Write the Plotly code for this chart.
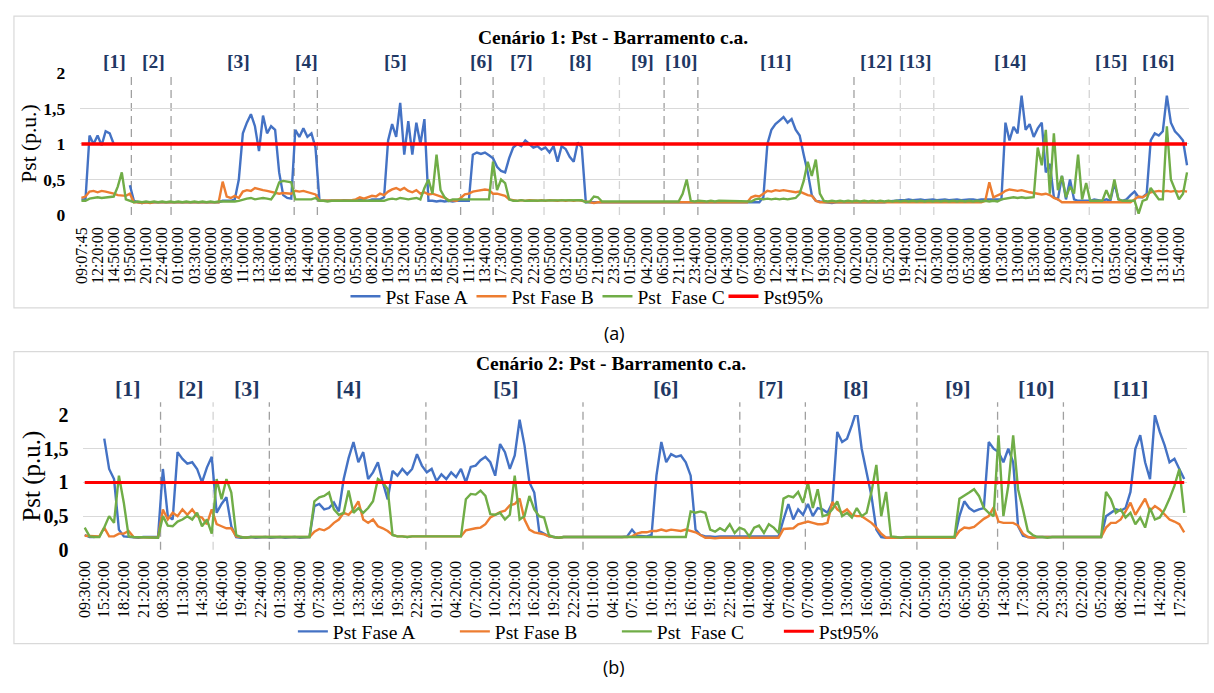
import plotly.graph_objects as go

W, H = 1214, 693
STEP = 4  # data points per labelled category interval

# ---------------- Panel (a) data ----------------
labels_a = ["09:07:45","12:20:00","14:50:00","19:50:00","20:10:00","22:40:00","01:00:00","03:30:00","06:00:00","08:30:00",
            "11:00:00","13:30:00","16:00:00","18:30:00","14:40:00","00:50:00","03:20:00","05:50:00","08:20:00","10:50:00",
            "13:20:00","15:50:00","18:20:00","20:50:00","11:10:00","13:40:00","17:30:00","20:00:00","22:30:00","00:50:00",
            "03:20:00","05:50:00","21:00:00","23:30:00","01:50:00","04:20:00","06:50:00","21:10:00","23:40:00","02:00:00",
            "04:30:00","07:00:00","09:30:00","12:00:00","14:30:00","17:00:00","19:30:00","22:00:00","00:20:00","02:50:00",
            "05:20:00","19:40:00","22:10:00","00:30:00","03:00:00","05:30:00","08:00:00","10:30:00","13:00:00","15:30:00",
            "18:00:00","20:30:00","23:00:00","01:20:00","03:50:00","06:20:00","10:40:00","13:10:00","15:40:00"]

fase_a_1 = [0.22,0.22,1.12,1.00,1.12,0.98,1.18,1.15,1.00,None,
            None,None,0.42,0.20,0.18,0.17,0.18,0.18,0.17,0.18,
            0.18,0.17,0.18,0.18,0.17,0.18,0.18,0.17,0.18,0.18,
            0.17,0.18,0.18,0.18,0.18,0.20,0.20,0.20,0.22,0.50,
            1.15,1.30,1.42,1.25,0.90,1.40,1.15,1.25,1.20,0.60,
            0.28,0.24,0.23,1.20,1.10,1.22,1.10,1.15,0.95,0.20,
            0.20,0.20,0.19,0.20,0.20,0.21,0.20,0.20,0.21,0.22,
            0.21,0.20,0.22,0.22,0.22,0.25,1.05,1.28,1.10,1.58,
            0.85,1.32,0.85,1.30,1.00,1.35,0.20,0.20,0.19,0.20,
            0.19,0.20,0.19,0.20,0.20,0.19,0.20,0.85,0.88,0.86,
            0.88,0.84,0.80,0.68,0.62,0.60,0.80,0.95,1.00,0.97,
            1.05,1.00,0.95,0.97,0.92,0.95,0.88,0.97,0.75,0.97,
            0.93,0.82,0.75,1.02,0.95,0.18,0.18,0.17,0.18,0.18,
            0.18,0.17,0.18,0.18,0.18,0.17,0.18,0.18,0.17,0.18,
            0.18,0.18,0.17,0.18,0.18,0.17,0.18,0.18,0.18,0.17,
            0.18,0.18,0.17,0.18,0.18,0.17,0.18,0.18,0.18,0.17,
            0.18,0.18,0.17,0.18,0.18,0.17,0.18,0.18,0.18,0.25,
            1.00,1.20,1.28,1.33,1.38,1.30,1.35,1.20,1.12,0.85,
            0.60,0.28,0.20,0.19,0.18,0.18,0.17,0.18,0.18,0.17,
            0.18,0.18,0.17,0.18,0.18,0.18,0.17,0.18,0.18,0.18,
            0.19,0.20,0.20,0.21,0.21,0.22,0.21,0.22,0.22,0.21,
            0.22,0.22,0.21,0.22,0.22,0.21,0.22,0.22,0.21,0.22,
            0.22,0.22,0.21,0.22,0.22,0.21,0.22,0.22,0.22,1.30,
            1.05,1.24,1.15,1.68,1.20,1.28,1.10,1.22,1.30,0.60,
            0.72,0.25,0.22,0.55,0.22,0.50,0.22,0.20,0.20,0.21,
            0.20,0.22,0.21,0.20,0.22,0.20,0.45,0.22,0.20,0.22,
            0.28,0.33,0.25,0.25,0.30,1.05,1.15,1.12,1.18,1.68,
            1.30,1.18,1.12,1.05,0.70]

fase_b_1 = [0.24,0.26,0.33,0.34,0.32,0.34,0.33,0.32,0.30,0.28,
            0.28,0.27,0.30,0.18,0.18,0.17,0.18,0.17,0.18,0.18,
            0.17,0.18,0.18,0.17,0.18,0.18,0.17,0.18,0.18,0.17,
            0.18,0.18,0.17,0.18,0.18,0.47,0.26,0.24,0.27,0.24,
            0.33,0.35,0.34,0.38,0.36,0.35,0.34,0.33,0.31,0.30,
            0.31,0.30,0.30,0.34,0.33,0.34,0.32,0.30,0.29,0.20,
            0.20,0.20,0.20,0.21,0.20,0.20,0.20,0.21,0.22,0.25,
            0.23,0.25,0.27,0.26,0.30,0.28,0.33,0.36,0.38,0.35,
            0.38,0.34,0.32,0.35,0.30,0.32,0.29,0.30,0.28,0.27,
            0.24,0.21,0.20,0.20,0.24,0.29,0.30,0.33,0.34,0.35,
            0.36,0.35,0.30,0.30,0.28,0.27,0.22,0.21,0.20,0.21,
            0.20,0.21,0.20,0.20,0.21,0.20,0.21,0.20,0.20,0.21,
            0.20,0.21,0.20,0.21,0.20,0.18,0.18,0.17,0.18,0.18,
            0.18,0.17,0.18,0.18,0.17,0.18,0.18,0.17,0.18,0.18,
            0.17,0.18,0.18,0.17,0.18,0.18,0.17,0.18,0.18,0.17,
            0.18,0.18,0.17,0.18,0.18,0.17,0.18,0.18,0.17,0.18,
            0.18,0.17,0.18,0.18,0.17,0.18,0.25,0.27,0.26,0.30,
            0.34,0.33,0.35,0.34,0.35,0.34,0.33,0.32,0.33,0.30,
            0.28,0.27,0.20,0.18,0.18,0.17,0.18,0.18,0.17,0.18,
            0.18,0.17,0.18,0.18,0.17,0.18,0.18,0.17,0.18,0.18,
            0.17,0.18,0.18,0.17,0.18,0.18,0.17,0.18,0.18,0.17,
            0.18,0.18,0.17,0.18,0.18,0.17,0.18,0.18,0.17,0.18,
            0.18,0.17,0.18,0.18,0.20,0.46,0.25,0.27,0.30,0.34,
            0.36,0.35,0.34,0.35,0.33,0.32,0.31,0.30,0.29,0.30,
            0.28,0.24,0.22,0.18,0.18,0.17,0.18,0.18,0.17,0.18,
            0.18,0.17,0.18,0.18,0.17,0.18,0.18,0.17,0.18,0.18,
            0.18,0.22,0.26,0.25,0.28,0.32,0.33,0.34,0.33,0.34,
            0.33,0.34,0.33,0.34,0.33]

fase_c_1 = [0.20,0.20,0.23,0.24,0.25,0.24,0.25,0.26,0.26,0.40,
            0.60,0.22,0.20,0.18,0.19,0.18,0.19,0.18,0.19,0.18,
            0.19,0.18,0.19,0.18,0.19,0.18,0.19,0.18,0.19,0.18,
            0.19,0.18,0.19,0.18,0.19,0.19,0.18,0.19,0.19,0.20,
            0.22,0.23,0.24,0.22,0.23,0.24,0.23,0.22,0.30,0.46,
            0.48,0.47,0.46,0.22,0.22,0.23,0.22,0.22,0.24,0.20,
            0.20,0.19,0.20,0.20,0.19,0.20,0.20,0.19,0.20,0.20,
            0.19,0.20,0.20,0.19,0.20,0.20,0.22,0.23,0.22,0.24,
            0.23,0.22,0.23,0.24,0.22,0.38,0.50,0.30,0.85,0.35,
            0.25,0.20,0.22,0.22,0.21,0.22,0.22,0.21,0.22,0.22,
            0.21,0.22,0.75,0.35,0.50,0.45,0.22,0.20,0.20,0.21,
            0.20,0.20,0.21,0.20,0.20,0.21,0.20,0.20,0.21,0.20,
            0.20,0.21,0.20,0.20,0.21,0.18,0.19,0.26,0.25,0.19,
            0.19,0.19,0.20,0.19,0.19,0.20,0.19,0.19,0.20,0.19,
            0.19,0.20,0.19,0.19,0.20,0.19,0.19,0.20,0.19,0.30,
            0.50,0.20,0.19,0.20,0.19,0.19,0.20,0.19,0.20,0.20,
            0.19,0.20,0.20,0.19,0.20,0.20,0.19,0.22,0.23,0.22,
            0.23,0.22,0.23,0.22,0.23,0.22,0.23,0.24,0.30,0.48,
            0.75,0.55,0.78,0.30,0.20,0.19,0.20,0.19,0.20,0.19,
            0.20,0.19,0.20,0.19,0.20,0.19,0.20,0.19,0.20,0.19,
            0.20,0.19,0.20,0.19,0.20,0.19,0.20,0.19,0.20,0.19,
            0.20,0.19,0.20,0.19,0.20,0.19,0.20,0.19,0.20,0.19,
            0.20,0.19,0.20,0.19,0.20,0.19,0.20,0.19,0.22,0.23,
            0.24,0.25,0.24,0.25,0.24,0.25,0.25,0.95,0.70,1.20,
            0.30,1.15,0.35,0.55,0.25,0.40,0.30,0.85,0.22,0.45,
            0.20,0.20,0.20,0.20,0.35,0.22,0.50,0.22,0.20,0.20,
            0.20,0.20,0.02,0.20,0.22,0.38,0.30,0.22,0.22,1.25,
            0.50,0.35,0.22,0.30,0.60]

# segment boundaries / label centres (in data-point units)
bounds_a = [12.37, 22.21, 52.72, 58.47, 93.97, 102.02, 144.4, 152.77, 191.46, 261.18]
bounds_a_light = [114.64, 133.33, 202.95, 211.24, 249.77]
seg_pos_a = [8.1, 17.96, 38.87, 55.84, 77.74, 99.14, 108.98, 123.74, 138.99, 148.83,
             171.96, 197.05, 206.64, 230.26, 255.35, 266.91]

# ---------------- Panel (b) data ----------------
labels_b = ["09:30:00","15:20:00","18:20:00","21:20:00","08:30:00","11:30:00","14:30:00","16:40:00","19:40:00","22:40:00",
            "01:30:00","04:30:00","07:30:00","10:30:00","13:30:00","16:30:00","19:30:00","22:30:00","01:20:00","04:20:00",
            "07:20:00","10:20:00","13:20:00","16:20:00","19:20:00","22:20:00","01:10:00","04:10:00","07:10:00","10:10:00",
            "13:10:00","16:10:00","19:10:00","22:10:00","01:00:00","04:00:00","07:00:00","07:00:00","10:00:00","13:00:00",
            "16:00:00","19:00:00","22:00:00","00:50:00","03:50:00","06:50:00","09:50:00","14:30:00","17:30:00","20:30:00",
            "23:30:00","02:20:00","05:20:00","08:20:00","11:20:00","14:20:00","17:20:00"]

fase_a_2 = [0.22,0.19,0.19,None,1.65,1.20,1.05,0.30,0.20,0.19,
            0.19,0.18,0.19,0.19,0.18,0.19,1.20,0.50,0.45,1.45,
            1.35,1.28,1.30,1.20,1.00,1.22,1.38,0.55,0.68,0.78,
            0.35,0.19,0.18,0.19,0.19,0.18,0.19,0.19,0.18,0.19,
            0.19,0.18,0.19,0.19,0.18,0.19,0.19,0.65,0.68,0.60,
            0.62,0.70,0.57,1.05,1.36,1.60,1.30,1.45,1.05,1.15,
            1.30,1.00,0.75,1.17,1.10,1.20,1.12,1.20,1.42,1.25,
            1.15,1.20,1.02,1.12,1.05,1.15,1.08,1.20,1.00,1.23,
            1.25,1.33,1.38,1.30,1.10,1.57,1.45,1.20,1.40,1.93,
            1.55,1.00,0.85,0.28,0.24,0.20,0.19,0.18,0.19,0.19,
            0.18,0.19,0.19,0.18,0.19,0.19,0.18,0.19,0.19,0.18,
            0.19,0.20,0.30,0.21,0.21,0.20,0.22,1.10,1.60,1.30,
            1.42,1.38,1.40,1.30,1.10,0.30,0.22,0.20,0.20,0.19,
            0.20,0.20,0.19,0.20,0.20,0.19,0.20,0.20,0.19,0.20,
            0.20,0.19,0.20,0.45,0.68,0.45,0.60,0.52,0.68,0.50,
            0.62,0.60,0.55,0.70,1.75,1.60,1.65,1.85,2.08,1.50,
            1.15,0.80,0.30,0.19,0.18,0.18,0.17,0.18,0.18,0.17,
            0.18,0.18,0.17,0.18,0.18,0.17,0.18,0.18,0.18,0.50,
            0.72,0.62,0.57,0.60,0.62,1.60,1.50,1.45,1.30,1.50,
            1.30,0.35,0.21,0.19,0.18,0.19,0.19,0.18,0.19,0.19,
            0.18,0.19,0.19,0.18,0.19,0.19,0.18,0.19,0.19,0.50,
            0.55,0.60,0.58,0.62,0.86,1.50,1.70,1.30,1.05,2.00,
            1.75,1.55,1.30,1.35,1.20,1.05]

fase_b_2 = [0.21,0.21,0.20,0.20,0.33,0.20,0.20,0.24,0.24,0.28,
            0.19,0.19,0.18,0.19,0.19,0.18,0.60,0.45,0.55,0.50,
            0.60,0.52,0.60,0.50,0.48,0.38,0.60,0.38,0.35,0.32,
            0.32,0.20,0.19,0.18,0.19,0.19,0.18,0.19,0.19,0.18,
            0.19,0.19,0.18,0.19,0.19,0.18,0.19,0.27,0.31,0.29,
            0.33,0.40,0.45,0.55,0.52,0.60,0.72,0.45,0.40,0.45,
            0.35,0.32,0.28,0.22,0.20,0.20,0.19,0.20,0.20,0.19,
            0.20,0.20,0.19,0.20,0.20,0.19,0.20,0.20,0.29,0.31,
            0.32,0.33,0.38,0.48,0.52,0.56,0.58,0.66,0.68,0.76,
            0.45,0.30,0.26,0.25,0.23,0.20,0.19,0.18,0.19,0.19,
            0.18,0.19,0.19,0.18,0.19,0.19,0.18,0.19,0.19,0.18,
            0.19,0.19,0.20,0.24,0.26,0.26,0.28,0.28,0.30,0.28,
            0.30,0.29,0.28,0.30,0.28,0.26,0.22,0.18,0.18,0.17,
            0.18,0.18,0.17,0.18,0.18,0.17,0.18,0.18,0.17,0.18,
            0.18,0.17,0.18,0.31,0.31,0.32,0.38,0.40,0.42,0.40,
            0.38,0.38,0.40,0.71,0.60,0.55,0.60,0.52,0.50,0.50,
            0.45,0.40,0.33,0.24,0.18,0.18,0.17,0.18,0.18,0.17,
            0.18,0.18,0.17,0.18,0.18,0.17,0.18,0.18,0.18,0.28,
            0.33,0.32,0.34,0.40,0.46,0.50,0.63,0.42,0.40,0.40,
            0.40,0.36,0.24,0.19,0.18,0.19,0.19,0.18,0.19,0.19,
            0.18,0.19,0.19,0.18,0.19,0.19,0.18,0.19,0.19,0.33,
            0.40,0.40,0.45,0.57,0.70,0.52,0.65,0.76,0.58,0.65,
            0.60,0.52,0.45,0.42,0.38,0.26]

fase_c_2 = [0.33,0.20,0.19,0.19,0.33,0.50,0.40,1.10,0.70,0.20,
            0.19,0.19,0.18,0.19,0.19,0.18,0.50,0.36,0.35,0.42,
            0.45,0.50,0.45,0.55,0.35,0.45,0.24,1.05,0.75,1.05,
            0.85,0.22,0.19,0.18,0.19,0.19,0.18,0.19,0.19,0.18,
            0.19,0.19,0.18,0.19,0.19,0.18,0.19,0.72,0.78,0.80,
            0.85,0.60,0.52,0.55,0.88,0.55,0.62,0.55,0.62,0.72,
            1.05,1.00,0.90,0.22,0.20,0.20,0.19,0.20,0.20,0.19,
            0.20,0.20,0.19,0.20,0.20,0.19,0.20,0.20,0.75,0.83,
            0.82,0.88,0.80,0.53,0.52,0.55,0.45,0.52,1.10,0.45,
            0.50,0.80,0.60,0.50,0.48,0.22,0.19,0.18,0.19,0.19,
            0.18,0.19,0.19,0.18,0.19,0.19,0.18,0.19,0.19,0.18,
            0.19,0.19,0.18,0.19,0.19,0.18,0.19,0.19,0.18,0.19,
            0.19,0.18,0.19,0.19,0.57,0.55,0.57,0.55,0.30,0.27,
            0.32,0.28,0.38,0.25,0.33,0.30,0.20,0.33,0.36,0.25,
            0.38,0.33,0.25,0.76,0.80,0.78,0.86,0.70,1.00,0.62,
            0.90,0.50,0.52,0.60,0.72,0.50,0.55,0.48,0.62,0.50,
            0.55,0.86,1.26,0.50,0.86,0.20,0.19,0.18,0.19,0.19,
            0.18,0.19,0.19,0.18,0.19,0.19,0.18,0.19,0.19,0.76,
            0.80,0.85,0.90,0.80,0.62,0.55,0.50,1.70,0.50,0.95,
            1.70,0.90,0.60,0.28,0.22,0.19,0.19,0.18,0.19,0.19,
            0.18,0.19,0.19,0.18,0.19,0.19,0.18,0.19,0.19,0.86,
            0.75,0.55,0.60,0.48,0.55,0.38,0.48,0.33,0.62,0.45,
            0.48,0.60,0.76,0.95,1.20,0.55]

bounds_b = [15.52, 37.78, 69.82, 101.97, 134.06, 147.47, 170.3, 186.81, 200.28]
bounds_b_light = [26.28]
seg_pos_b = [8.88, 21.67, 33.25, 54.17, 86.2, 118.9, 140.36, 157.77, 178.69, 194.68, 214.03]

PST95 = 1.0
series_names = ["Pst Fase A", "Pst Fase B", "Pst\u00a0 Fase C", "Pst95%"]
series_colors = ["#4472C4", "#ED7D31", "#70AD47", "#FF0000"]

SERIF = "Liberation Serif"
NAVY = "#1F3864"

fig = go.Figure()


def add_panel(xa, ya, leg, series, red_w):
    n = len(series[0])
    xs = list(range(n))
    for name, ys, col in zip(series_names[:3], series, series_colors[:3]):
        fig.add_trace(go.Scatter(x=xs, y=ys, mode="lines", name=name,
                                 line=dict(color=col, width=2.4), xaxis=xa, yaxis=ya,
                                 legend=leg, hoverinfo="skip"))
    fig.add_trace(go.Scatter(x=xs, y=[PST95] * n, mode="lines", name=series_names[3],
                             line=dict(color=series_colors[3], width=red_w), xaxis=xa, yaxis=ya,
                             legend=leg, hoverinfo="skip"))


add_panel("x", "y", "legend", [fase_a_1, fase_b_1, fase_c_1], 3.5)
add_panel("x2", "y2", "legend2", [fase_a_2, fase_b_2, fase_c_2], 3.0)


def px(v):
    return v / W


def py(v):
    return 1 - v / H


yticks = [0, 0.5, 1, 1.5, 2]
yticktext = ["0", "0,5", "1", "1,5", "2"]

common_x = dict(showgrid=False, zeroline=False, showline=False, ticks="", tickangle=-90)
common_y = dict(range=[0, 2], tickvals=yticks, ticktext=yticktext, showgrid=True,
                gridcolor="#D9D9D9", gridwidth=1.3, zeroline=False, showline=False, ticks="")

fig.update_layout(
    width=W, height=H, margin=dict(l=0, r=0, t=0, b=0),
    paper_bgcolor="white", plot_bgcolor="white",
    xaxis=dict(domain=[px(72.7), px(1189.5)], range=[-0.32, 274.41], anchor="y",
               tickvals=[STEP * k for k in range(len(labels_a))], ticktext=labels_a,
               tickfont=dict(family=SERIF, size=16, color="black"), ticklabelstandoff=8, **common_x),
    yaxis=dict(domain=[py(210.7), py(64)], anchor="x",
               tickfont=dict(family=SERIF, size=17.5, color="black", weight="bold"),
               ticklabelstandoff=14, **common_y),
    xaxis2=dict(domain=[px(76), px(1187.7)], range=[-0.26, 225.55], anchor="y2",
                tickvals=[STEP * k for k in range(len(labels_b))], ticktext=labels_b,
                tickfont=dict(family=SERIF, size=16, color="black"), ticklabelstandoff=7, **common_x),
    yaxis2=dict(domain=[py(556.5), py(417.3)], anchor="x2",
                tickfont=dict(family=SERIF, size=20, color="black", weight="bold"),
                ticklabelstandoff=14, **common_y),
    legend=dict(orientation="h", x=px(340), y=py(295), xanchor="left", yanchor="middle",
                font=dict(family=SERIF, size=19.5, color="black"), entrywidth=81,
                bgcolor="rgba(0,0,0,0)", itemclick=False),
    legend2=dict(orientation="h", x=px(287), y=py(641), xanchor="left", yanchor="middle",
                 font=dict(family=SERIF, size=19.5, color="black"), entrywidth=117,
                 bgcolor="rgba(0,0,0,0)", itemclick=False),
)

shapes = []
# panel frames
for top, bot in [(5.3, 306.7), (351.7, 653.3)]:
    shapes.append(dict(type="rect", xref="paper", yref="paper", x0=px(6), x1=px(1209),
                       y0=py(bot), y1=py(top), line=dict(color="#D9D9D9", width=1.2),
                       fillcolor="rgba(0,0,0,0)", layer="below"))
# segment separators
for xs_, col in [(bounds_a, "#A0A0A0"), (bounds_a_light, "#D3D3D3")]:
    for b in xs_:
        shapes.append(dict(type="line", xref="x", yref="paper", x0=b, x1=b, y0=py(210.7), y1=py(63),
                           line=dict(color=col, width=1.3, dash="8px,5px"), layer="below"))
for xs_, col in [(bounds_b, "#A0A0A0"), (bounds_b_light, "#D3D3D3")]:
    for b in xs_:
        shapes.append(dict(type="line", xref="x2", yref="paper", x0=b, x1=b, y0=py(556.5), y1=py(404),
                           line=dict(color=col, width=1.3, dash="8px,5px"), layer="below"))
fig.update_layout(shapes=shapes)

ann = []
ann.append(dict(text="<b>Cenário 1: Pst - Barramento c.a.</b>", x=px(610), y=py(27), xref="paper", yref="paper",
                showarrow=False, font=dict(family=SERIF, size=19.5, color="black"), xanchor="center", yanchor="middle"))
ann.append(dict(text="<b>Cenário 2: Pst - Barramento c.a.</b>", x=px(607), y=py(364), xref="paper", yref="paper",
                showarrow=False, font=dict(family=SERIF, size=19.5, color="black"), xanchor="center", yanchor="middle"))
for k, p in enumerate(seg_pos_a):
    ann.append(dict(text=f"<b>[{k + 1}]</b>", x=p, y=py(52.3), xref="x", yref="paper", showarrow=False,
                    font=dict(family=SERIF, size=19.5, color=NAVY), xanchor="center", yanchor="middle"))
for k, p in enumerate(seg_pos_b):
    ann.append(dict(text=f"<b>[{k + 1}]</b>", x=p, y=py(389.5), xref="x2", yref="paper", showarrow=False,
                    font=dict(family=SERIF, size=22, color=NAVY), xanchor="center", yanchor="middle"))
ann.append(dict(text="Pst (p.u.)", x=px(21.7), y=py(137.5), xref="paper", yref="paper", textangle=-90,
                showarrow=False, font=dict(family=SERIF, size=21.5, color="black"), xanchor="center", yanchor="middle"))
ann.append(dict(text="Pst (p.u.)", x=px(24), y=py(480), xref="paper", yref="paper", textangle=-90,
                showarrow=False, font=dict(family=SERIF, size=25, color="black"), xanchor="center", yanchor="middle"))
ann.append(dict(text="(a)", x=px(611), y=py(333), xref="paper", yref="paper", showarrow=False,
                font=dict(family="Open Sans", size=18, color="black"), xanchor="center", yanchor="middle"))
ann.append(dict(text="(b)", x=px(611), y=py(678), xref="paper", yref="paper", showarrow=False,
                font=dict(family="Open Sans", size=18, color="black"), xanchor="center", yanchor="middle"))
fig.update_layout(annotations=ann)

fig.write_html("out.html")
